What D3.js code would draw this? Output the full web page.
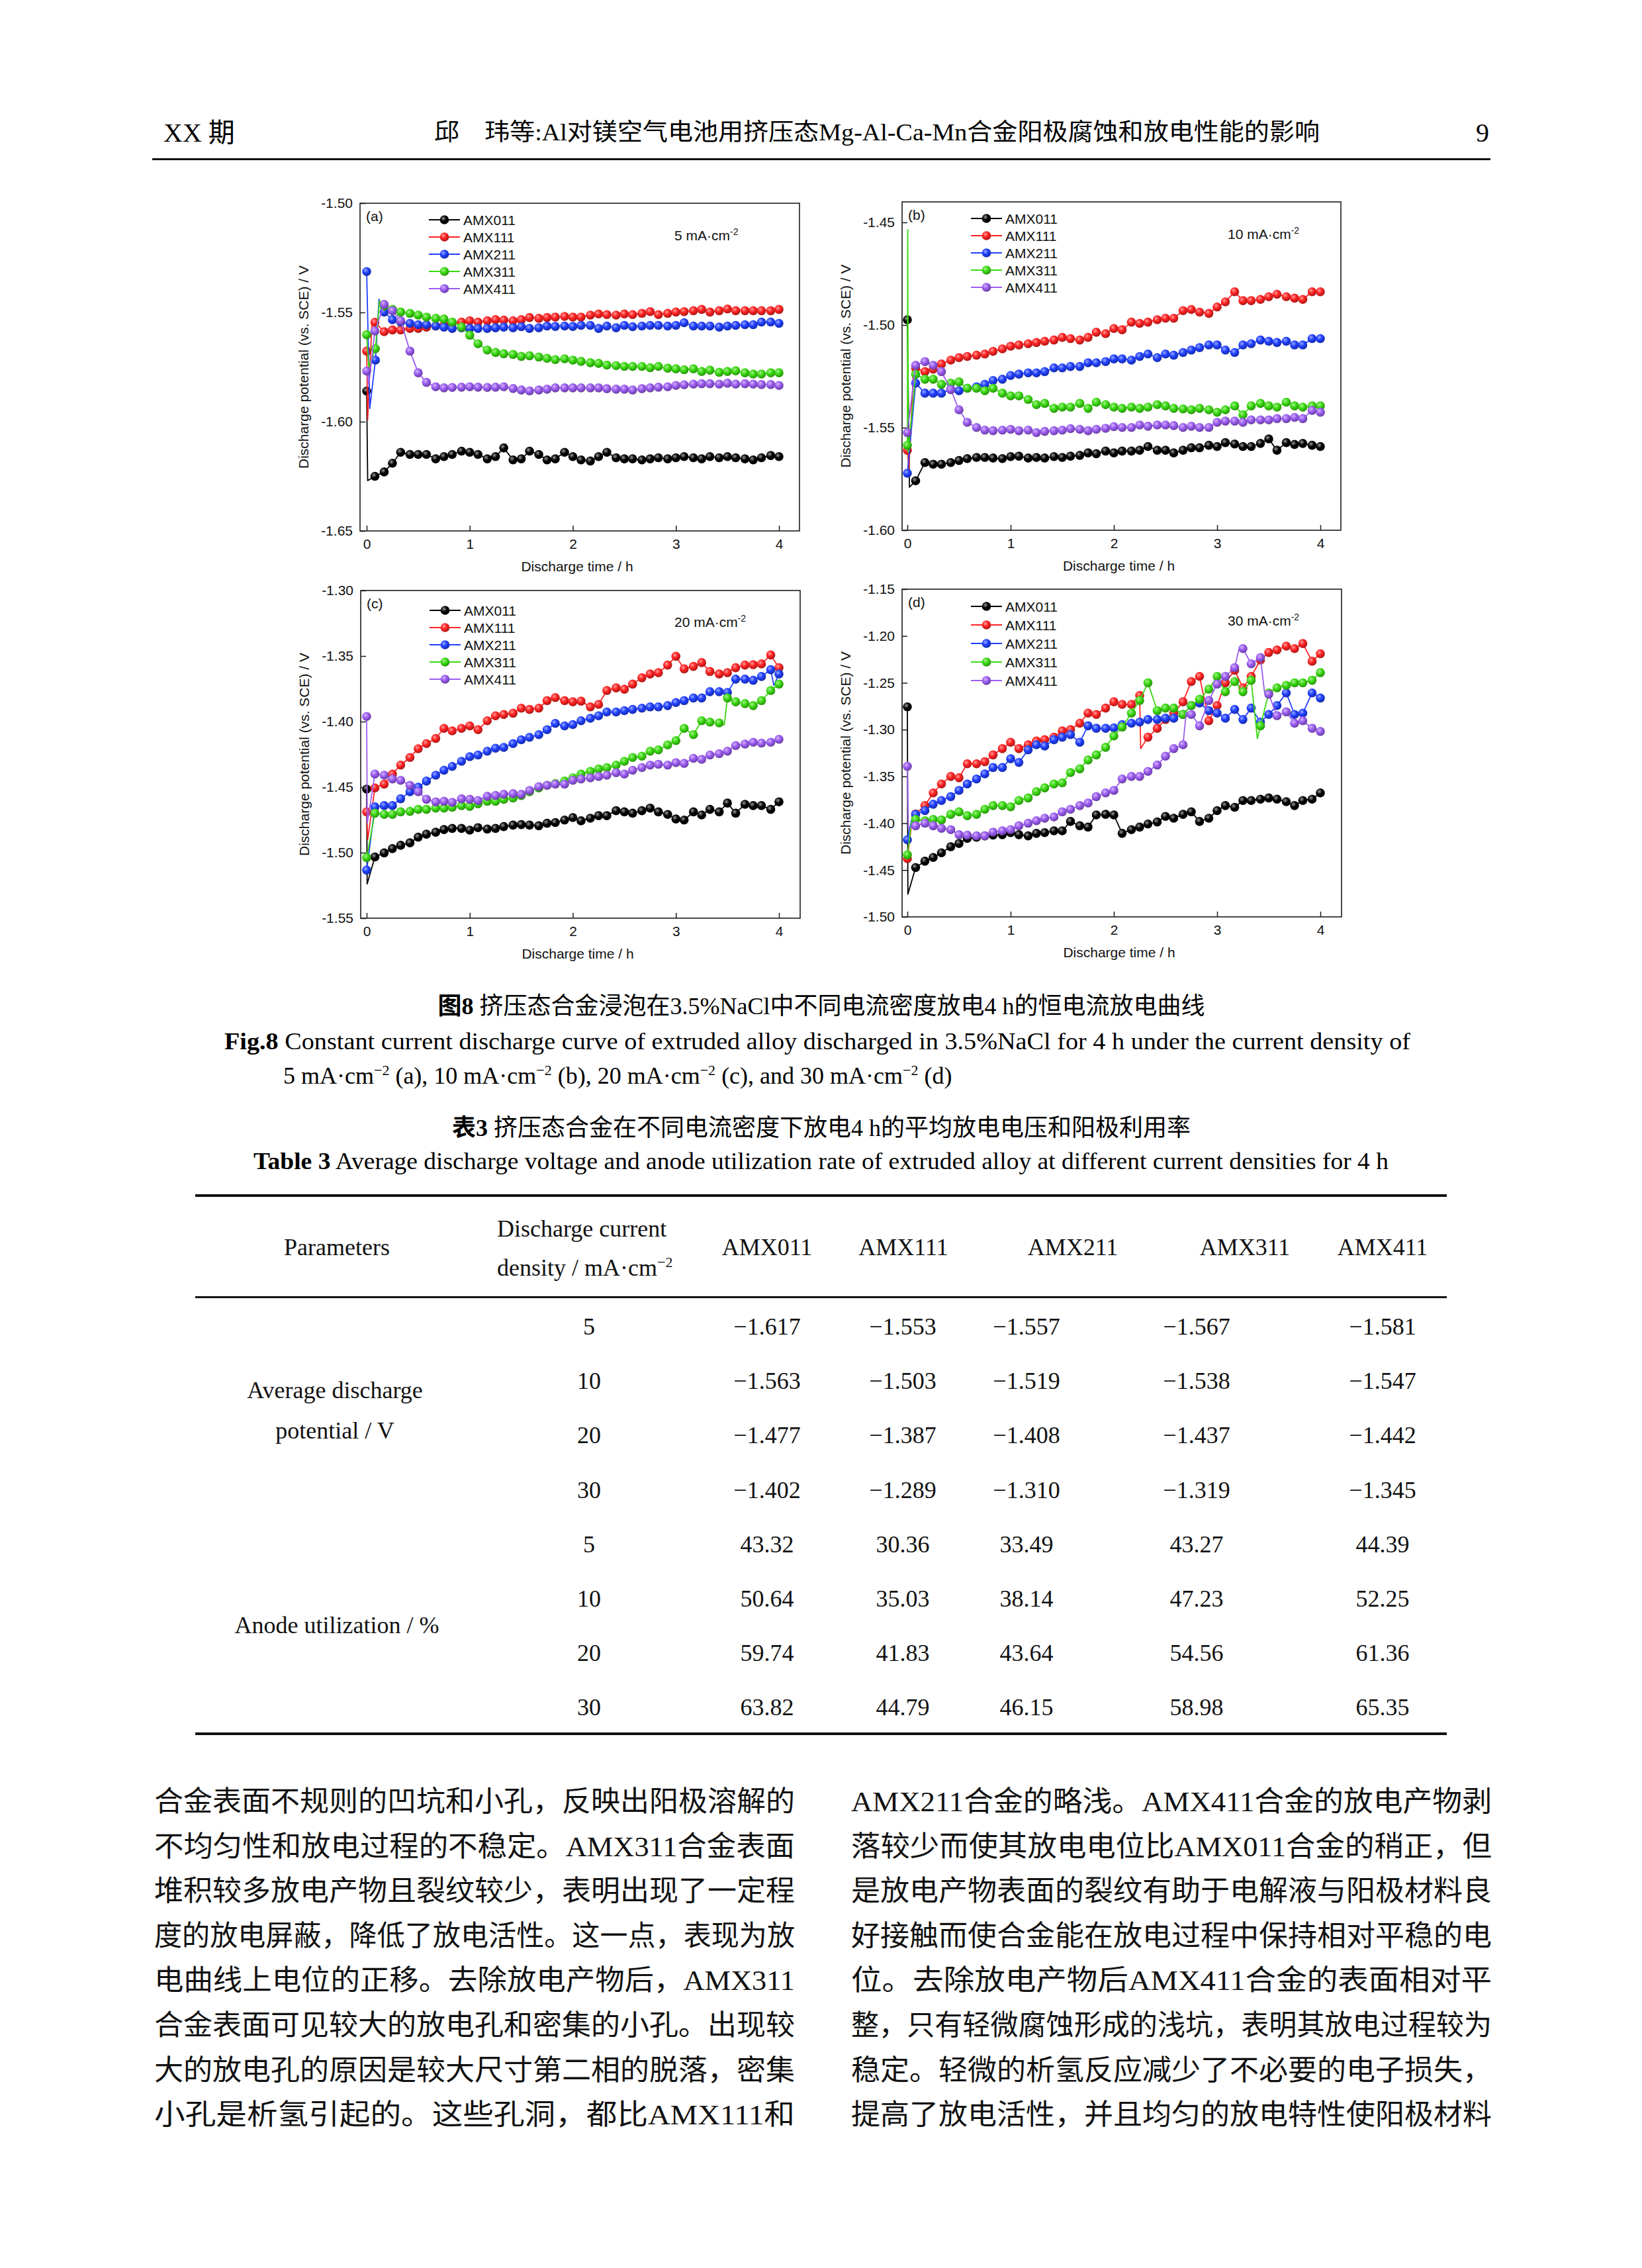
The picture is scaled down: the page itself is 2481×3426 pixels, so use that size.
<!DOCTYPE html>
<html><head><meta charset="utf-8">
<script src="https://cdn.jsdelivr.net/npm/d3@7"></script>
<style>body{margin:0;background:#fff}</style>
</head><body>
<script>
// ---------------- DATA ----------------
const seriesNames = ["AMX011","AMX111","AMX211","AMX311","AMX411"];
const seriesColors = ["#000000","#ff2222","#2040ff","#3ada10","#9c5cf2"];
const xTicks = [0,1,2,3,4];
const tGrid = [0.08,0.17,0.25,0.33,0.42,0.50,0.58,0.67,0.75,0.83,0.92,1.00,
  1.08,1.17,1.25,1.33,1.42,1.50,1.58,1.67,1.75,1.83,1.92,2.00,
  2.08,2.17,2.25,2.33,2.42,2.50,2.58,2.67,2.75,2.83,2.92,3.00,
  3.08,3.17,3.25,3.33,3.42,3.50,3.58,3.67,3.75,3.83,3.92,4.00];

// panel (a) 5 mA/cm2
const aTicks = [-1.50,-1.55,-1.60,-1.65];
const a011Head = [[0,-1.586,1],[0.01,-1.627]];
const a011 = [-1.625,-1.623,-1.619,-1.614,-1.615,-1.615,-1.615,-1.617,-1.616,-1.615,-1.6135,-1.614,
 -1.615,-1.617,-1.616,-1.612,-1.6175,-1.617,-1.6135,-1.615,-1.6175,-1.617,-1.614,-1.616,
 -1.6175,-1.618,-1.616,-1.614,-1.6165,-1.617,-1.617,-1.6175,-1.617,-1.6165,-1.617,-1.6165,
 -1.616,-1.6165,-1.617,-1.616,-1.6165,-1.616,-1.6165,-1.617,-1.6175,-1.6165,-1.6155,-1.616];
const a111Head = [[0,-1.5677,1],[0.01,-1.599],[0.05,-1.556]];
const a111 = [-1.5545,-1.5588,-1.558,-1.558,-1.5573,-1.5573,-1.5567,-1.5562,-1.5556,-1.555,-1.5544,-1.5538,
 -1.5544,-1.5538,-1.5533,-1.5535,-1.5538,-1.5533,-1.5523,-1.5527,-1.5523,-1.5521,-1.5518,-1.5521,
 -1.5521,-1.5512,-1.5507,-1.551,-1.5512,-1.5507,-1.551,-1.5504,-1.5496,-1.551,-1.5504,-1.5498,
 -1.5496,-1.5492,-1.5486,-1.5498,-1.5492,-1.5484,-1.5492,-1.5492,-1.5492,-1.5492,-1.5492,-1.5486];
const a211Head = [[0,-1.5313,1],[0.03,-1.594],[0.085,-1.5718,1],[0.12,-1.544]];
const a211 = [null,-1.5498,-1.5533,-1.5544,-1.555,-1.5556,-1.5556,-1.5562,-1.5567,-1.5573,-1.557,-1.5573,
 -1.5573,-1.5573,-1.557,-1.5567,-1.557,-1.5565,-1.5573,-1.557,-1.5562,-1.5564,-1.5562,-1.5564,
 -1.5559,-1.5559,-1.5573,-1.5562,-1.557,-1.5559,-1.5565,-1.5562,-1.5559,-1.5559,-1.5562,-1.5559,
 -1.5547,-1.5562,-1.5562,-1.5562,-1.5567,-1.5562,-1.5559,-1.5556,-1.5556,-1.5544,-1.5544,-1.555];
const a311Head = [[0,-1.5602,1],[0.02,-1.575],[0.085,-1.5666,1],[0.125,-1.5446]];
const a311 = [null,-1.547,-1.5486,-1.5498,-1.5504,-1.5512,-1.5521,-1.5527,-1.553,-1.5544,-1.5567,-1.5604,
 -1.5643,-1.5672,-1.5683,-1.5689,-1.5692,-1.5701,-1.5698,-1.5704,-1.571,-1.5716,-1.5712,-1.5718,
 -1.5724,-1.573,-1.5733,-1.5741,-1.5743,-1.5747,-1.5747,-1.5747,-1.5753,-1.5747,-1.5755,-1.5758,
 -1.5762,-1.5758,-1.577,-1.5764,-1.5774,-1.577,-1.5767,-1.5776,-1.5782,-1.5782,-1.5776,-1.5776];
const a411Head = [[0,-1.5768,1],[0.02,-1.583]];
const a411 = [-1.5585,-1.5463,-1.5492,-1.5538,-1.5677,-1.5776,-1.582,-1.584,-1.5845,-1.5843,-1.5842,-1.584,
 -1.5842,-1.5843,-1.5842,-1.584,-1.5848,-1.5855,-1.5859,-1.5855,-1.5851,-1.5845,-1.5845,-1.5845,
 -1.5845,-1.5845,-1.5845,-1.5849,-1.5851,-1.5851,-1.5855,-1.5849,-1.5845,-1.5842,-1.584,-1.5834,
 -1.5831,-1.5828,-1.5826,-1.5826,-1.5828,-1.5824,-1.5828,-1.5826,-1.5828,-1.583,-1.583,-1.5834];

// panel (b) 10 mA/cm2
const bTicks = [-1.45,-1.50,-1.55,-1.60];
const b011Head = [[0,-1.4974,1],[0.02,-1.579]];
const b011 = [-1.5759,-1.567,-1.5678,-1.5678,-1.567,-1.566,-1.5651,-1.5645,-1.5645,-1.5648,-1.5651,-1.5641,
 -1.5639,-1.5648,-1.5645,-1.5648,-1.5641,-1.5645,-1.5639,-1.5635,-1.5623,-1.5627,-1.5614,-1.5623,
 -1.5614,-1.5614,-1.561,-1.5592,-1.561,-1.561,-1.5623,-1.561,-1.5598,-1.5598,-1.5586,-1.5592,
 -1.5573,-1.558,-1.5592,-1.5592,-1.5577,-1.5555,-1.561,-1.5573,-1.5582,-1.5577,-1.5586,-1.5592];
const b111Head = [[0,-1.561,1],[0.015,-1.570],[0.06,-1.5209]];
const b111 = [-1.521,-1.5227,-1.5215,-1.519,-1.5171,-1.5159,-1.5153,-1.5147,-1.5141,-1.5128,-1.5116,-1.5103,
 -1.5097,-1.5091,-1.5085,-1.5079,-1.5073,-1.506,-1.5066,-1.5073,-1.506,-1.5035,-1.5042,-1.5017,
 -1.5023,-1.4986,-1.4992,-1.4986,-1.4974,-1.4967,-1.4967,-1.493,-1.4924,-1.4937,-1.4943,-1.4912,
 -1.4887,-1.4838,-1.4881,-1.4881,-1.4875,-1.4862,-1.485,-1.4862,-1.4869,-1.4875,-1.4838,-1.4838];
const b211Head = [[0,-1.5722,1]];
const b211 = [-1.5283,-1.5332,-1.5332,-1.5332,-1.5314,-1.532,-1.5308,-1.5301,-1.5289,-1.527,-1.5264,-1.5246,
 -1.5239,-1.5233,-1.5233,-1.5227,-1.5209,-1.5209,-1.5202,-1.5202,-1.5184,-1.5184,-1.5178,-1.5165,
 -1.5165,-1.5171,-1.5153,-1.5141,-1.5159,-1.5141,-1.5147,-1.5134,-1.5122,-1.511,-1.5097,-1.5097,
 -1.5122,-1.5134,-1.5097,-1.5091,-1.5073,-1.5079,-1.5085,-1.5079,-1.5097,-1.5097,-1.5066,-1.5066];
const b311Head = [[0,-1.5586,1],[0.004,-1.4535],[0.008,-1.562]];
const b311 = [-1.524,-1.5264,-1.5264,-1.5289,-1.5283,-1.5277,-1.5308,-1.5308,-1.532,-1.5308,-1.5332,-1.5345,
 -1.5345,-1.5363,-1.5388,-1.5382,-1.5406,-1.54,-1.54,-1.5382,-1.5406,-1.5376,-1.5388,-1.54,
 -1.5406,-1.54,-1.5406,-1.54,-1.5388,-1.5394,-1.5406,-1.5409,-1.5413,-1.5406,-1.5413,-1.5425,
 -1.5413,-1.5394,-1.5437,-1.5394,-1.5382,-1.5394,-1.54,-1.5376,-1.5394,-1.54,-1.5394,-1.5394];
const b411Head = [[0,-1.5524,1]];
const b411 = [-1.5196,-1.5178,-1.5196,-1.5227,-1.5314,-1.5413,-1.5474,-1.5499,-1.5512,-1.5515,-1.5512,-1.5508,
 -1.5515,-1.5512,-1.5524,-1.5518,-1.5515,-1.5512,-1.5505,-1.5508,-1.5515,-1.5508,-1.5503,-1.5495,
 -1.5499,-1.5499,-1.5487,-1.5493,-1.5487,-1.5487,-1.549,-1.5499,-1.5493,-1.5499,-1.5499,-1.5474,
 -1.5468,-1.5468,-1.5474,-1.5462,-1.5462,-1.5462,-1.5456,-1.5456,-1.545,-1.5456,-1.5416,-1.5425];

// panel (c) 20 mA/cm2
const cTicks = [-1.30,-1.35,-1.40,-1.45,-1.50,-1.55];
const c011Head = [[0,-1.4515,1],[0.005,-1.5239]];
const c011 = [-1.5033,-1.5002,-1.4969,-1.4944,-1.4925,-1.4882,-1.4859,-1.4844,-1.4824,-1.4815,-1.4815,-1.4828,
 -1.4809,-1.482,-1.4815,-1.4801,-1.479,-1.4786,-1.479,-1.4795,-1.4776,-1.477,-1.4751,-1.4732,
 -1.4757,-1.4737,-1.4718,-1.4718,-1.468,-1.4689,-1.4699,-1.468,-1.466,-1.4689,-1.4708,-1.4743,
 -1.4751,-1.4689,-1.4712,-1.467,-1.4689,-1.4622,-1.4699,-1.4631,-1.4641,-1.4641,-1.467,-1.4612];
const c111Head = [[0,-1.4689,1],[0.01,-1.49]];
const c111 = [-1.4506,-1.4477,-1.44,-1.4332,-1.4274,-1.4207,-1.4168,-1.4129,-1.4052,-1.4071,-1.4052,-1.4033,
 -1.4062,-1.3994,-1.3956,-1.3946,-1.3936,-1.3898,-1.3907,-1.3898,-1.384,-1.3817,-1.384,-1.3849,
 -1.3844,-1.3888,-1.3869,-1.3763,-1.3743,-1.3753,-1.3714,-1.3666,-1.3637,-1.3627,-1.3569,-1.3502,
 -1.3598,-1.3579,-1.355,-1.3618,-1.3637,-1.3627,-1.3589,-1.3569,-1.3566,-1.356,-1.3492,-1.3589];
const c211Head = [[0,-1.5133,1]];
const c211 = [-1.4651,-1.4641,-1.4641,-1.4589,-1.4535,-1.45,-1.4454,-1.4409,-1.4371,-1.4342,-1.4303,-1.4268,
 -1.4255,-1.4226,-1.4203,-1.4197,-1.4168,-1.4139,-1.412,-1.41,-1.4062,-1.4014,-1.4033,-1.4023,
 -1.3994,-1.3975,-1.3956,-1.3927,-1.3927,-1.3917,-1.3907,-1.3898,-1.3888,-1.3888,-1.3878,-1.3855,
 -1.384,-1.382,-1.382,-1.3772,-1.3772,-1.3778,-1.3676,-1.3676,-1.3685,-1.3656,-1.3604,-1.3637];
const c211Extra = [[3.95,-1.3724]];
const c311Head = [[0,-1.5037,1]];
const c311 = [-1.4699,-1.4708,-1.4708,-1.4689,-1.4685,-1.467,-1.467,-1.466,-1.466,-1.4654,-1.4641,-1.4647,
 -1.4627,-1.4608,-1.4608,-1.4593,-1.4583,-1.4564,-1.4535,-1.4506,-1.4486,-1.4473,-1.4454,-1.4429,
 -1.44,-1.438,-1.4361,-1.4351,-1.4332,-1.4303,-1.4274,-1.4264,-1.4226,-1.4216,-1.4178,-1.4145,
 -1.4052,-1.41,-1.3994,-1.4004,-1.401,-1.382,-1.3849,-1.3863,-1.3878,-1.384,-1.3763,-1.3714];
const c311Extra = [[3.47,-1.4025]];
const c411Head = [[0,-1.3961,1],[0.006,-1.4775]];
const c411 = [-1.44,-1.4409,-1.4438,-1.4448,-1.4486,-1.4535,-1.4593,-1.4612,-1.4608,-1.4616,-1.4589,-1.4593,
 -1.4602,-1.457,-1.4564,-1.4554,-1.455,-1.4554,-1.4525,-1.4496,-1.4486,-1.4477,-1.4477,-1.4448,
 -1.4438,-1.4429,-1.4419,-1.4409,-1.439,-1.44,-1.4371,-1.4351,-1.4332,-1.4326,-1.4332,-1.4313,
 -1.4319,-1.428,-1.4288,-1.4255,-1.4245,-1.4226,-1.4183,-1.4172,-1.4158,-1.4164,-1.4158,-1.4135];

// panel (d) 30 mA/cm2
const dTicks = [-1.15,-1.20,-1.25,-1.30,-1.35,-1.40,-1.45,-1.50];
const d011Head = [[0,-1.2757,1],[0.005,-1.4757]];
const d011 = [-1.4473,-1.4405,-1.4365,-1.4316,-1.4251,-1.4216,-1.4162,-1.4149,-1.4135,-1.4127,-1.4122,-1.41,
 -1.4122,-1.4135,-1.4108,-1.41,-1.4081,-1.4081,-1.3981,-1.4027,-1.4041,-1.3911,-1.3905,-1.3911,
 -1.4108,-1.4068,-1.4041,-1.4008,-1.3986,-1.3927,-1.3946,-1.3905,-1.3878,-1.3981,-1.3946,-1.3865,
 -1.3811,-1.383,-1.3757,-1.3757,-1.3743,-1.373,-1.3743,-1.377,-1.3811,-1.3757,-1.3743,-1.3676];
const d111Head = [[0,-1.4378,1],[0.05,-1.3932]];
const d111 = [-1.39,-1.3811,-1.3676,-1.3581,-1.35,-1.3514,-1.3365,-1.3365,-1.3343,-1.327,-1.3203,-1.3135,
 -1.3203,-1.3162,-1.3122,-1.3108,-1.3081,-1.3014,-1.3,-1.2932,-1.2824,-1.2838,-1.277,-1.2703,
 -1.273,-1.273,-1.2635,-1.3081,-1.2986,-1.2892,-1.2824,-1.2703,-1.2486,-1.2432,-1.2905,-1.2743,
 -1.25,-1.2365,-1.2554,-1.2432,-1.2257,-1.2176,-1.2149,-1.2108,-1.2135,-1.2081,-1.227,-1.2189];
const d111Extra = [[2.26,-1.3203]];
const d211Head = [[0,-1.4176,1],[0.05,-1.3919]];
const d211 = [-1.3905,-1.3865,-1.3797,-1.3757,-1.3716,-1.3649,-1.3581,-1.3527,-1.3473,-1.3405,-1.3405,-1.3311,
 -1.3351,-1.3216,-1.3162,-1.3176,-1.3108,-1.3081,-1.3054,-1.3135,-1.2959,-1.2986,-1.2986,-1.2981,
 -1.2946,-1.2932,-1.2919,-1.2892,-1.2892,-1.2878,-1.2878,-1.2838,-1.2743,-1.2716,-1.2797,-1.2824,
 -1.2878,-1.2784,-1.2892,-1.277,-1.2919,-1.2838,-1.2743,-1.2608,-1.2838,-1.2824,-1.2608,-1.2662];
const d311Head = [[0,-1.4338,1],[0.04,-1.399]];
const d311 = [-1.3959,-1.3973,-1.3959,-1.3965,-1.3905,-1.3878,-1.3919,-1.3905,-1.3851,-1.3811,-1.3811,-1.3824,
 -1.3757,-1.373,-1.3662,-1.3622,-1.3581,-1.3568,-1.3459,-1.3419,-1.3324,-1.327,-1.3189,-1.3068,
 -1.2973,-1.2824,-1.2689,-1.25,-1.2797,-1.277,-1.277,-1.2838,-1.2743,-1.2676,-1.2568,-1.2432,
 -1.2595,-1.2486,-1.2595,-1.2473,-1.2959,-1.2608,-1.2554,-1.2527,-1.25,-1.25,-1.2473,-1.2392];
const d311Extra = [[3.39,-1.3095]];
const d411Head = [[0,-1.3392,1],[0.01,-1.405]];
const d411 = [-1.4027,-1.4,-1.4027,-1.4054,-1.4068,-1.4122,-1.4127,-1.4135,-1.4135,-1.4095,-1.4081,-1.4068,
 -1.4027,-1.4,-1.3973,-1.3946,-1.3932,-1.3878,-1.3851,-1.3811,-1.3784,-1.3716,-1.3676,-1.3649,
 -1.3527,-1.35,-1.35,-1.3446,-1.3378,-1.3284,-1.3203,-1.3162,-1.2838,-1.2959,-1.2689,-1.2514,
 -1.2432,-1.2338,-1.2135,-1.2297,-1.223,-1.2622,-1.2851,-1.2811,-1.2932,-1.2905,-1.2986,-1.3019];
const d411Extra = [[2.70,-1.2824],[3.21,-1.2149],[3.46,-1.2608]];

// table
const tableCols = ["AMX011","AMX111","AMX211","AMX311","AMX411"];
const densities = ["5","10","20","30"];
const avgPotential = [
  ["−1.617","−1.553","−1.557","−1.567","−1.581"],
  ["−1.563","−1.503","−1.519","−1.538","−1.547"],
  ["−1.477","−1.387","−1.408","−1.437","−1.442"],
  ["−1.402","−1.289","−1.310","−1.319","−1.345"]];
const anodeUtil = [
  ["43.32","30.36","33.49","43.27","44.39"],
  ["50.64","35.03","38.14","47.23","52.25"],
  ["59.74","41.83","43.64","54.56","61.36"],
  ["63.82","44.79","46.15","58.98","65.35"]];

const bodyLeft = [
 "合金表面不规则的凹坑和小孔，反映出阳极溶解的",
 "不均匀性和放电过程的不稳定。AMX311合金表面",
 "堆积较多放电产物且裂纹较少，表明出现了一定程",
 "度的放电屏蔽，降低了放电活性。这一点，表现为放",
 "电曲线上电位的正移。去除放电产物后，AMX311",
 "合金表面可见较大的放电孔和密集的小孔。出现较",
 "大的放电孔的原因是较大尺寸第二相的脱落，密集",
 "小孔是析氢引起的。这些孔洞，都比AMX111和"];
const bodyRight = [
 "AMX211合金的略浅。AMX411合金的放电产物剥",
 "落较少而使其放电电位比AMX011合金的稍正，但",
 "是放电产物表面的裂纹有助于电解液与阳极材料良",
 "好接触而使合金能在放电过程中保持相对平稳的电",
 "位。去除放电产物后AMX411合金的表面相对平",
 "整，只有轻微腐蚀形成的浅坑，表明其放电过程较为",
 "稳定。轻微的析氢反应减少了不必要的电子损失，",
 "提高了放电活性，并且均匀的放电特性使阳极材料"];

// ---------------- DRAW ----------------
const W = 2481, H = 3426;
const SANS = "'Liberation Sans', Arial, sans-serif";
const SERIF = "'Liberation Serif', 'Times New Roman', 'Noto Sans CJK SC', serif";
const CJK = "'Liberation Serif', 'Noto Sans CJK SC', serif";
const svg = d3.select("body").append("svg").attr("width", W).attr("height", H)
  .attr("xmlns", "http://www.w3.org/2000/svg");
svg.append("rect").attr("width", W).attr("height", H).attr("fill", "#fff");
const defs = svg.append("defs");
seriesColors.forEach((c, i) => {
  const g = defs.append("radialGradient").attr("id", "ball" + i)
    .attr("cx", "0.38").attr("cy", "0.35").attr("r", "0.7");
  const base = d3.color(c);
  const light = i === 0 ? "#9a9a9a" : d3.interpolateRgb(c, "#ffffff")(0.55);
  const dark = i === 0 ? "#000" : base.darker(1.3).formatHex();
  g.append("stop").attr("offset", "0%").attr("stop-color", light);
  g.append("stop").attr("offset", "45%").attr("stop-color", c);
  g.append("stop").attr("offset", "100%").attr("stop-color", dark);
});

const panels = [
  { id: "a", label: "(a)", dens: "5 mA·cm", fl: 544, fr: 1208, ft: 307, fb: 802, xr: [554, 1177],
    yd: [-1.65, -1.50], yt: aTicks, legY: 332, legDy: 26, densY: 355,
    heads: [a011Head, a111Head, a211Head, a311Head, a411Head], vals: [a011, a111, a211, a311, a411], extras: [] },
  { id: "b", label: "(b)", dens: "10 mA·cm", fl: 1363, fr: 2026, ft: 305, fb: 801, xr: [1371, 1995],
    yd: [-1.60, -1.44], yt: bTicks, legY: 330, legDy: 26, densY: 353,
    heads: [b011Head, b111Head, b211Head, b311Head, b411Head], vals: [b011, b111, b211, b311, b411], extras: [] },
  { id: "c", label: "(c)", dens: "20 mA·cm", fl: 545, fr: 1209, ft: 892, fb: 1387, xr: [554, 1177],
    yd: [-1.55, -1.30], yt: cTicks, legY: 922, legDy: 26, densY: 939,
    heads: [c011Head, c111Head, c211Head, c311Head, c411Head], vals: [c011, c111, c211, c311, c411],
    extras: [null, null, c211Extra, c311Extra, null] },
  { id: "d", label: "(d)", dens: "30 mA·cm", fl: 1363, fr: 2027, ft: 890, fb: 1385, xr: [1371, 1995],
    yd: [-1.50, -1.15], yt: dTicks, legY: 916, legDy: 28, densY: 937,
    heads: [d011Head, d111Head, d211Head, d311Head, d411Head], vals: [d011, d111, d211, d311, d411],
    extras: [null, d111Extra, null, d311Extra, d411Extra] }
];

function drawPanel(p) {
  const g = svg.append("g");
  const x = d3.scaleLinear().domain([0, 4]).range(p.xr);
  const y = d3.scaleLinear().domain(p.yd).range([p.fb, p.ft]);
  defs.append("clipPath").attr("id", "clip" + p.id).append("rect")
    .attr("x", p.fl).attr("y", p.ft).attr("width", p.fr - p.fl).attr("height", p.fb - p.ft);

  // axes
  const ya = g.append("g").attr("transform", `translate(${p.fl},0)`)
    .call(d3.axisLeft(y).tickValues(p.yt).tickFormat(d => d.toFixed(2)).tickSizeInner(-8).tickSizeOuter(0).tickPadding(11));
  const xa = g.append("g").attr("transform", `translate(0,${p.fb})`)
    .call(d3.axisBottom(x).tickValues(xTicks).tickFormat(d => String(d)).tickSizeInner(-8).tickSizeOuter(0).tickPadding(12));
  [ya, xa].forEach(a => {
    a.select(".domain").remove();
    a.selectAll("line").attr("stroke", "#1c1c1c").attr("stroke-width", 1.5);
    a.selectAll("text").attr("font-family", SANS).attr("font-size", 21).attr("fill", "#111");
  });
  g.append("rect").attr("x", p.fl).attr("y", p.ft).attr("width", p.fr - p.fl).attr("height", p.fb - p.ft)
    .attr("fill", "none").attr("stroke", "#1c1c1c").attr("stroke-width", 1.6);

  // axis titles
  g.append("text").attr("x", (p.fl + p.fr) / 2 - 4).attr("y", p.fb + 61).attr("text-anchor", "middle")
    .attr("font-family", SANS).attr("font-size", 21).attr("fill", "#111").text("Discharge time / h");
  g.append("text").attr("transform", `translate(${p.fl - 78},${(p.ft + p.fb) / 2}) rotate(-90)`)
    .attr("text-anchor", "middle").attr("font-family", SANS).attr("font-size", 21).attr("fill", "#111")
    .text("Discharge potential (vs. SCE) / V");

  // series
  const lineGen = d3.line().x(d => x(d.t)).y(d => y(d.v));
  const plot = g.append("g").attr("clip-path", `url(#clip${p.id})`);
  p.vals.forEach((vals, i) => {
    const head = p.heads[i];
    const lastT = head[head.length - 1][0];
    let pts = head.map(h => ({ t: h[0], v: h[1], m: h[2] === 1 }))
      .concat(tGrid.map((t, j) => ({ t, v: vals[j], m: true })).filter(d => d.v !== null && d.t > lastT))
      .concat(((p.extras[i]) || []).map(e => ({ t: e[0], v: e[1], m: false })));
    pts.sort((a, b) => a.t - b.t);
    plot.append("path").datum(pts).attr("d", lineGen).attr("fill", "none")
      .attr("stroke", seriesColors[i]).attr("stroke-width", 1.8).attr("stroke-linejoin", "round");
    plot.selectAll(null).data(pts.filter(d => d.m)).enter().append("circle")
      .attr("cx", d => x(d.t)).attr("cy", d => y(d.v)).attr("r", 6.8)
      .attr("fill", `url(#ball${i})`);
  });

  // legend
  seriesNames.forEach((n, i) => {
    const ly = p.legY + i * p.legDy;
    const lx = p.fl + 104;
    g.append("line").attr("x1", lx).attr("x2", lx + 47).attr("y1", ly).attr("y2", ly)
      .attr("stroke", seriesColors[i]).attr("stroke-width", 1.9);
    g.append("circle").attr("cx", lx + 23.5).attr("cy", ly).attr("r", 6.8).attr("fill", `url(#ball${i})`);
    g.append("text").attr("x", lx + 52).attr("y", ly + 7.5).attr("font-family", SANS).attr("font-size", 21)
      .attr("fill", "#111").text(n);
  });
  g.append("text").attr("x", p.fl + 9).attr("y", p.ft + 27).attr("font-family", SANS).attr("font-size", 21)
    .attr("fill", "#111").text(p.label);
  const dt = g.append("text").attr("x", p.id === "a" || p.id === "c" ? 1019 : 1855).attr("y", p.densY + 7.5)
    .attr("font-family", SANS).attr("font-size", 21).attr("fill", "#111").text(p.dens);
  dt.append("tspan").attr("dy", -8).attr("font-size", 14).text("-2");
}
panels.forEach(drawPanel);

// ---------------- PAGE TEXT ----------------
// running header
svg.append("text").attr("x", 247).attr("y", 214).attr("font-family", CJK).attr("font-size", 40).text("XX 期");
svg.append("text").attr("x", 656).attr("y", 212).attr("font-family", CJK).attr("font-size", 36)
  .attr("textLength", 1338).attr("lengthAdjust", "spacingAndGlyphs")
  .text("邱　玮等:Al对镁空气电池用挤压态Mg-Al-Ca-Mn合金阳极腐蚀和放电性能的影响");
svg.append("text").attr("x", 2240).attr("y", 214).attr("text-anchor", "middle").attr("font-family", SERIF)
  .attr("font-size", 40).text("9");
svg.append("rect").attr("x", 230).attr("y", 239).attr("width", 2022).attr("height", 3).attr("fill", "#111");

// figure caption
const cap1 = svg.append("text").attr("x", 1241).attr("y", 1532).attr("text-anchor", "middle")
  .attr("font-family", CJK).attr("font-size", 36);
cap1.append("tspan").attr("font-weight", "bold").text("图8");
cap1.append("tspan").text(" 挤压态合金浸泡在3.5%NaCl中不同电流密度放电4 h的恒电流放电曲线");
const cap2 = svg.append("text").attr("x", 339).attr("y", 1585).attr("font-family", SERIF).attr("font-size", 36)
  .attr("textLength", 1792).attr("lengthAdjust", "spacingAndGlyphs");
cap2.append("tspan").attr("font-weight", "bold").text("Fig.8");
cap2.append("tspan").text(" Constant current discharge curve of extruded alloy discharged in 3.5%NaCl for 4 h under the current density of");
const cap3 = svg.append("text").attr("x", 428).attr("y", 1637).attr("font-family", SERIF).attr("font-size", 36);
["5", "10", "20", "30"].forEach((d, i) => {
  const pre = i === 0 ? "" : (i === 3 ? ", and " : ", ");
  cap3.append("tspan").text(pre + d + " mA·cm");
  cap3.append("tspan").attr("dy", -13).attr("font-size", 22).text("−2");
  cap3.append("tspan").attr("dy", 13).text(" (" + "abcd"[i] + ")");
});

// table caption
const tc1 = svg.append("text").attr("x", 1241).attr("y", 1716).attr("text-anchor", "middle")
  .attr("font-family", CJK).attr("font-size", 36);
tc1.append("tspan").attr("font-weight", "bold").text("表3");
tc1.append("tspan").text(" 挤压态合金在不同电流密度下放电4 h的平均放电电压和阳极利用率");
const tc2 = svg.append("text").attr("x", 383).attr("y", 1766).attr("font-family", SERIF).attr("font-size", 36)
  .attr("textLength", 1715).attr("lengthAdjust", "spacingAndGlyphs");
tc2.append("tspan").attr("font-weight", "bold").text("Table 3");
tc2.append("tspan").text(" Average discharge voltage and anode utilization rate of extruded alloy at different current densities for 4 h");

// table
const T = svg.append("g").attr("font-family", SERIF).attr("font-size", 36).attr("fill", "#111");
T.append("rect").attr("x", 295).attr("y", 1804).attr("width", 1891).attr("height", 4).attr("fill", "#111");
T.append("rect").attr("x", 295).attr("y", 1958).attr("width", 1891).attr("height", 3).attr("fill", "#111");
T.append("rect").attr("x", 295).attr("y", 2617).attr("width", 1891).attr("height", 4).attr("fill", "#111");
T.append("text").attr("x", 509).attr("y", 1896).attr("text-anchor", "middle").text("Parameters");
T.append("text").attr("x", 751).attr("y", 1868).text("Discharge current");
const dh = T.append("text").attr("x", 751).attr("y", 1927).text("density / mA·cm");
dh.append("tspan").attr("dy", -13).attr("font-size", 22).text("−2");
const headX = [1159, 1365, 1621, 1881, 2089];
const valX = [1159, 1364, 1551, 1808, 2089];
tableCols.forEach((c, i) => T.append("text").attr("x", headX[i]).attr("y", 1896).attr("text-anchor", "middle").text(c));
const rowY = [2016, 2098, 2180, 2263, 2345, 2427, 2509, 2591];
const allRows = avgPotential.concat(anodeUtil);
allRows.forEach((r, ri) => {
  T.append("text").attr("x", 890).attr("y", rowY[ri]).attr("text-anchor", "middle").text(densities[ri % 4]);
  r.forEach((v, ci) => T.append("text").attr("x", valX[ci]).attr("y", rowY[ri]).attr("text-anchor", "middle").text(v));
});
T.append("text").attr("x", 506).attr("y", 2112).attr("text-anchor", "middle").text("Average discharge");
T.append("text").attr("x", 506).attr("y", 2173).attr("text-anchor", "middle").text("potential / V");
T.append("text").attr("x", 509).attr("y", 2467).attr("text-anchor", "middle").text("Anode utilization / %");

// body text
function bodyCol(lines, x0, width) {
  lines.forEach((l, i) => {
    svg.append("text").attr("x", x0).attr("y", 2736 + i * 67.6).attr("font-family", CJK)
      .attr("font-size", 43).attr("textLength", width).attr("lengthAdjust", "spacingAndGlyphs").attr("fill", "#111").text(l);
  });
}
bodyCol(bodyLeft, 233, 968);
bodyCol(bodyRight, 1286, 968);
</script>
</body></html>
